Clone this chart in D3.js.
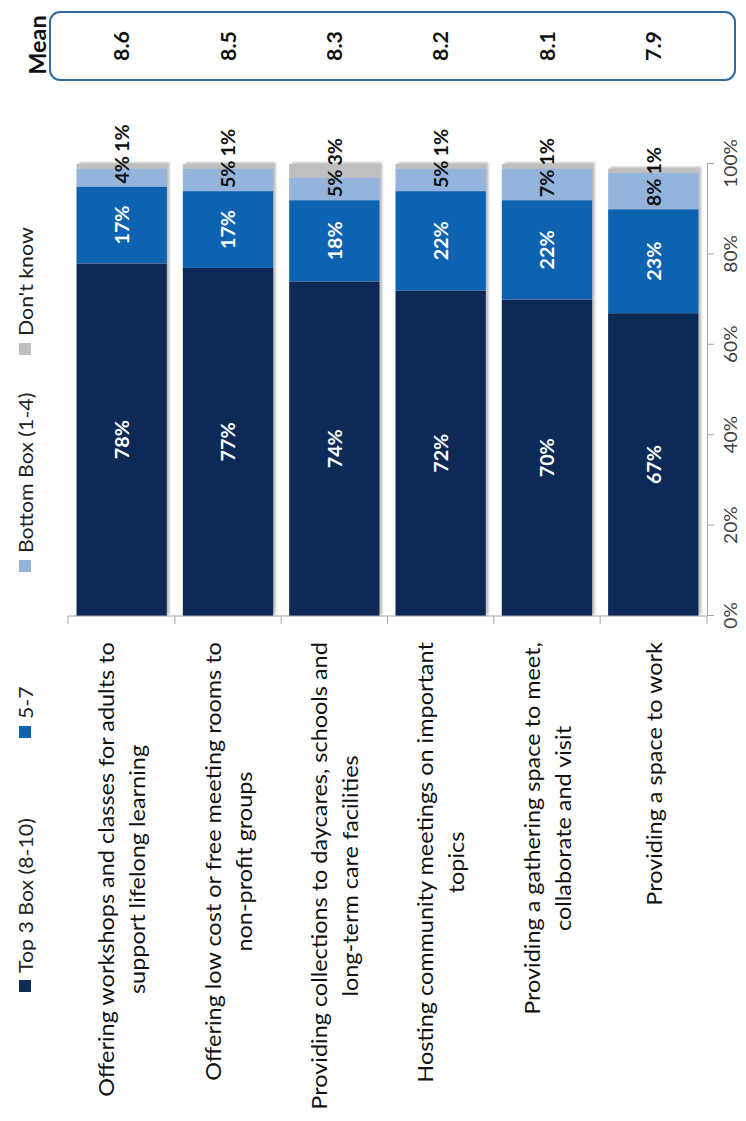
<!DOCTYPE html>
<html>
<head>
<meta charset="utf-8">
<script src="https://cdn.jsdelivr.net/npm/d3@7"></script>
<style>
  body { margin: 0; background: #fff; }
  text { font-family: Lato, "Open Sans", sans-serif; }
</style>
</head>
<body>
<script>
// ---- data ----
const categories = [
  "Offering workshops and classes for adults to support lifelong learning",
  "Offering low cost or free meeting rooms to non-profit groups",
  "Providing collections to daycares, schools and long-term care facilities",
  "Hosting community meetings on important topics",
  "Providing a gathering space to meet, collaborate and visit",
  "Providing a space to work"
];
const categoryLines = [
  ["Offering workshops and classes for adults to", "support lifelong learning"],
  ["Offering low cost or free meeting rooms to", "non-profit groups"],
  ["Providing collections to daycares, schools and", "long-term care facilities"],
  ["Hosting community meetings on important", "topics"],
  ["Providing a gathering space to meet,", "collaborate and visit"],
  ["Providing a space to work"]
];
const top3Box   = [78, 77, 74, 72, 70, 67];
const box5to7   = [17, 17, 18, 22, 22, 23];
const bottomBox = [4, 5, 5, 5, 7, 8];
const dontKnow  = [1, 1, 3, 1, 1, 1];
const meanScores = ["8.6", "8.5", "8.3", "8.2", "8.1", "7.9"];
const seriesNames = ["Top 3 Box (8-10)", "5-7", "Bottom Box (1-4)", "Don't know"];
const valueTicks = [0, 20, 40, 60, 80, 100];

// ---- layout ----
const W = 746, H = 1121;          // page size
const colors = ["#0f2b57", "#0a64b0", "#94b4dc", "#bfbfbf"];
const keys = ["top3", "mid", "bottom", "dk"];

const svg = d3.select("body").append("svg").attr("width", W).attr("height", H);

// shadow behind the columns
const defs = svg.append("defs");
const f = defs.append("filter").attr("id", "shadow").attr("x", "-10%").attr("y", "-10%").attr("width", "130%").attr("height", "130%");
f.append("feDropShadow").attr("dx", 1.5).attr("dy", 2.5).attr("stdDeviation", 1.2)
  .attr("flood-color", "#7f7f7f").attr("flood-opacity", 0.55);

// the chart is laid out landscape and turned a quarter turn
const g = svg.append("g").attr("transform", `translate(0,${H}) rotate(-90)`);

const rows = categories.map((c, i) => ({
  cat: c, top3: top3Box[i], mid: box5to7[i], bottom: bottomBox[i], dk: dontKnow[i]
}));
const stacked = d3.stack().keys(keys)(rows);

const x = d3.scaleLinear().domain([0, 100]).range([505, 957]);
const y = d3.scaleBand().domain(categories).range([68, 707]).paddingInner(0.15).paddingOuter(0.08);

// horizontal squeeze so the sans face reads close to the narrow original
const probe = g.append("text").style("font-size", "22px").text(categoryLines[0][0]);
const sx = 455 / probe.node().getComputedTextLength();
probe.remove();

// ---- bars ----
const barsG = g.append("g").attr("filter", "url(#shadow)");
stacked.forEach((s, si) => {
  barsG.append("g").attr("fill", colors[si])
    .selectAll("rect").data(s).join("rect")
    .attr("x", d => x(d[0]))
    .attr("width", d => x(d[1]) - x(d[0]))
    .attr("y", d => y(d.data.cat))
    .attr("height", y.bandwidth());
});

// ---- axes ----
const axisColor = "#a6a6a6";
// value axis (on the far side of the columns)
const vAxis = g.append("g").attr("transform", `translate(0,${y.range()[1]})`)
  .call(d3.axisBottom(x).tickValues(valueTicks).tickSize(7).tickPadding(10).tickFormat(d => d + "%"));
vAxis.select(".domain").attr("stroke", axisColor);
vAxis.selectAll(".tick line").attr("stroke", axisColor);
vAxis.selectAll(".tick text").attr("fill", "#404040").style("font-size", "18px")
  .style("font-family", "Lato, 'Open Sans', sans-serif")
  .attr("transform", `scale(${sx},1)`);

// category axis line with boundary ticks
const catAxis = g.append("g");
catAxis.append("line")
  .attr("x1", x(0)).attr("x2", x(0))
  .attr("y1", y.range()[0]).attr("y2", y.range()[1])
  .attr("stroke", axisColor);
const bounds = categories.map(c => y(c) - y.step() * y.paddingInner() / 2);
bounds[0] = y.range()[0];
bounds.push(y.range()[1]);
catAxis.selectAll("line.tk").data(bounds).join("line").attr("class", "tk")
  .attr("x1", x(0)).attr("x2", x(0) - 8)
  .attr("y1", d => d).attr("y2", d => d)
  .attr("stroke", axisColor);

// ---- segment labels ----
const lbl = g.append("g").style("font-weight", "bold").style("font-size", "18.5px");
rows.forEach((r, i) => {
  const cy = y(r.cat) + y.bandwidth() / 2;
  const s = stacked.map(layer => layer[i]);
  // large segments: centred, white
  [0, 1].forEach(k => {
    lbl.append("text")
      .attr("transform", `translate(${(x(s[k][0]) + x(s[k][1])) / 2},${cy}) scale(${sx},1)`)
      .attr("text-anchor", "middle").attr("dominant-baseline", "central")
      .attr("fill", "#fff").text(r[keys[k]] + "%");
  });
  // thin segments: black, set one after the other
  const t2 = lbl.append("text")
    .attr("transform", `translate(${x(s[2][0]) + 3},${cy}) scale(${sx},1)`)
    .attr("dominant-baseline", "central").attr("fill", "#111").text(r.bottom + "%");
  const w2 = t2.node().getComputedTextLength() * sx;
  lbl.append("text")
    .attr("transform", `translate(${x(s[2][0]) + 3 + w2 + 4},${cy}) scale(${sx},1)`)
    .attr("dominant-baseline", "central").attr("fill", "#111").text(r.dk + "%");
});

// ---- category labels ----
const labelEnd = 479;
const catG = g.append("g").style("font-size", "22px").attr("fill", "#111");
categoryLines.forEach((lines, i) => {
  const cy = y(categories[i]) + y.bandwidth() / 2;
  const grp = catG.append("g");
  const texts = lines.map(t => grp.append("text").attr("text-anchor", "middle")
    .attr("dominant-baseline", "central").text(t));
  const blockW = d3.max(texts, t => t.node().getComputedTextLength()) * sx;
  const lh = 31;
  texts.forEach((t, j) => {
    const dy = (j - (lines.length - 1) / 2) * lh;
    t.attr("transform", `translate(${labelEnd - blockW / 2},${cy + dy}) scale(${sx},1)`);
  });
});

// ---- legend ----
const legendX = [129, 383, 549, 766];
const legG = g.append("g").style("font-size", "20px").attr("fill", "#222");
seriesNames.forEach((n, i) => {
  legG.append("rect").attr("x", legendX[i]).attr("y", 19).attr("width", 12).attr("height", 12)
    .attr("fill", colors[i]);
  legG.append("text")
    .attr("transform", `translate(${legendX[i] + 19},${25}) scale(${sx},1)`)
    .attr("dominant-baseline", "central").text(n);
});

// ---- mean panel ----
const meanG = g.append("g");
meanG.append("rect")
  .attr("x", 1121 - 80).attr("y", 50).attr("width", 68).attr("height", 685)
  .attr("rx", 10).attr("ry", 10)
  .attr("fill", "none").attr("stroke", "#2f6aa3").attr("stroke-width", 2);
meanG.append("text")
  .attr("transform", `translate(${1121 - 45},${38}) scale(${sx},1)`)
  .attr("text-anchor", "middle").attr("dominant-baseline", "central")
  .style("font-weight", "bold").style("font-size", "22px").attr("fill", "#111").text("Mean");
meanScores.forEach((m, i) => {
  meanG.append("text")
    .attr("transform", `translate(${1121 - 46},${y(categories[i]) + y.bandwidth() / 2}) scale(${sx},1)`)
    .attr("text-anchor", "middle").attr("dominant-baseline", "central")
    .style("font-weight", "bold").style("font-size", "20px").attr("fill", "#111").text(m);
});
</script>
</body>
</html>
